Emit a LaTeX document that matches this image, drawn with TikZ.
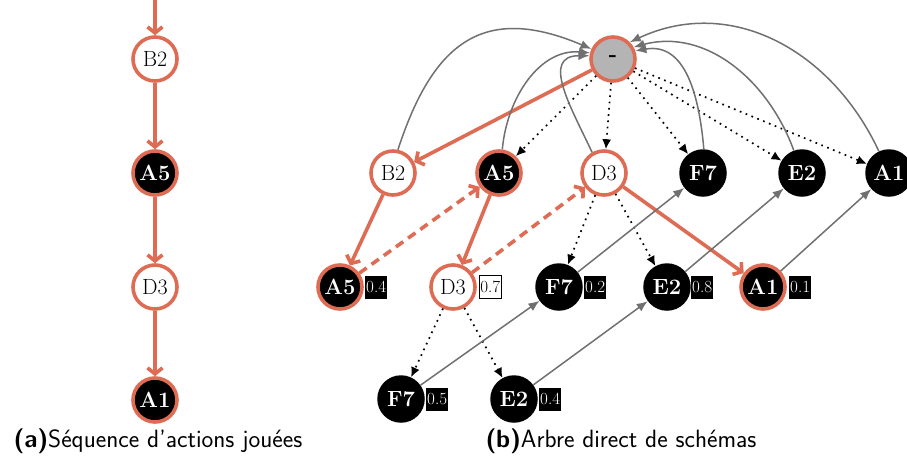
\documentclass[tikz,border=0pt]{standalone}
\usetikzlibrary{arrows.meta}
\definecolor{org}{RGB}{222,108,84}
\definecolor{grr}{RGB}{112,112,112}
\definecolor{rootg}{RGB}{180,180,180}
\begin{document}
\begin{tikzpicture}[x=1pt,y=-1pt,
  base/.style={circle,minimum size=44pt,inner sep=0pt,font=\fontsize{22}{22}\selectfont},
  wn/.style={base,draw=org,line width=3.6pt,fill=white},
  bn/.style={base,fill=black,text=white,minimum size=47.5pt,font=\fontsize{22}{22}\selectfont\bfseries},
  bo/.style={base,draw=org,line width=3.6pt,fill=black,text=white,font=\fontsize{22}{22}\selectfont\bfseries},
  rootn/.style={base,draw=org,line width=3.6pt,fill=rootg,font=\fontsize{22}{22}\selectfont\bfseries},
  val/.style={fill=black,text=white,inner xsep=1pt,inner ysep=0pt,minimum height=23pt,anchor=west,font=\fontsize{17}{17}\selectfont},
  valw/.style={val,fill=white,text=black,draw=black,line width=0.6pt},
  oa/.style={draw=org,line width=3.6pt,-{Straight Barb[length=6pt,width=15pt]}},
  od/.style={oa,dash pattern=on 9pt off 6pt},
  da/.style={draw=black,line width=1.7pt,dash pattern=on 1.7pt off 4.6pt,-{Latex[length=10pt,width=9pt]}},
  ga/.style={draw=grr,line width=1.5pt,-{Latex[length=11pt,width=9pt]}},
  captxt/.style={font=\fontsize{25}{25}\selectfont\sffamily}
]
\useasboundingbox (0,0) rectangle (907,461);

% (a) left column
\coordinate (top) at (155,0);
\node[wn] (lb2) at (155,59) {B2};
\node[bo] (la5) at (155,173) {A5};
\node[wn] (ld3) at (155,287) {D3};
\node[bo] (la1) at (155,400) {A1};
\draw[oa] (top) -- (lb2);
\draw[oa] (lb2) -- (la5);
\draw[oa] (la5) -- (ld3);
\draw[oa] (ld3) -- (la1);

% (b) tree
\node[rootn] (root) at (613,59) {-};
\node[wn] (b2) at (393,173) {B2};
\node[bo] (a5) at (499,173) {A5};
\node[wn] (d3) at (604,173) {D3};
\node[bn] (f7) at (703,173) {F7};
\node[bn] (e2) at (802,173) {E2};
\node[bn] (a1) at (889,173) {A1};

\node[bo] (a5b) at (340,287) {A5};
\node[wn] (d3b) at (453,287) {D3};
\node[bn] (f7b) at (559,287) {F7};
\node[bn] (e2b) at (667,287) {E2};
\node[bo] (a1b) at (763,287) {A1};

\node[bn] (f7c) at (401,399) {F7};
\node[bn] (e2c) at (514,399) {E2};

\node[val] (v1) at (365,287) {0.4};
\node[valw] (v2) at (479,287) {0.7};
\node[val] (v3) at (584,287) {0.2};
\node[val] (v4) at (691,287) {0.8};
\node[val] (v5) at (789,287) {0.1};
\node[val] (v6) at (426,399) {0.5};
\node[val] (v7) at (539,399) {0.4};

% orange path
\draw[oa] (root) -- (b2);
\draw[oa] (b2) -- (a5b);
\draw[od] (a5b) -- (a5);
\draw[oa] (a5) -- (d3b);
\draw[od] (d3b) -- (d3);
\draw[oa] (d3) -- (a1b);

% dotted
\draw[da] (root) -- (a5);
\draw[da] (root) -- (d3);
\draw[da] (root) -- (f7);
\draw[da] (root) -- (e2);
\draw[da] (root) -- (a1);
\draw[da] (d3) -- (f7b);
\draw[da] (d3) -- (e2b);
\draw[da] (d3b) -- (f7c);
\draw[da] (d3b) -- (e2c);

% gray
\draw[ga] (f7b) -- (f7);
\draw[ga] (e2b) -- (e2);
\draw[ga] (a1b) -- (a1);
\draw[ga] (f7c) -- (f7b);
\draw[ga] (e2c) -- (e2b);
\draw[ga] (b2.78) to[out=72,in=157,looseness=1.35] (root.155);
\draw[ga] (a5.82) to[out=85,in=175] (root.165);
\draw[ga] (d3.120) to[out=115,in=180,looseness=1.3] (root.172);
\draw[ga] (f7.88) to[out=95,in=10,looseness=1.1] (root.20);
\draw[ga] (e2.110) to[out=110,in=15] (root.30);
\draw[ga] (a1.115) to[out=115,in=25,looseness=1.05] (root.45);

% captions
\node[captxt] (capa) at (158,441) {\textbf{(a)}Séquence d'actions jouées};
\node[captxt] (capb) at (621,441) {\textbf{(b)}Arbre direct de schémas};
\end{tikzpicture}
\end{document}
